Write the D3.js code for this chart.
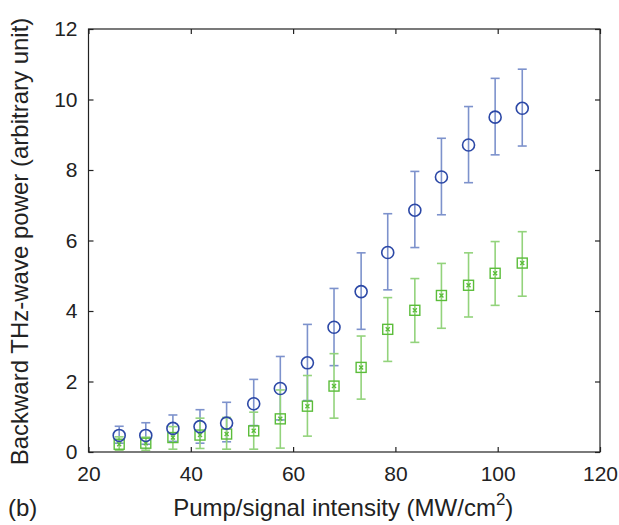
<!DOCTYPE html>
<html>
<head>
<meta charset="utf-8">
<script src="https://cdn.jsdelivr.net/npm/d3@7"></script>
<style>
html,body{margin:0;padding:0;background:#fff;}
svg{display:block;font-family:"Liberation Sans",Arial,Helvetica,sans-serif;}
</style>
</head>
<body>
<svg id="chart" width="619" height="525"></svg>
<script>
// Pump/signal intensity (MW/cm^2)
const intensity = [26, 31.2, 36.5, 41.8, 47, 52.3, 57.5, 62.8, 68, 73.3, 78.5, 83.8, 89, 94.3, 99.5, 104.8];
// Blue circles
const blueValue = [0.47, 0.47, 0.67, 0.72, 0.82, 1.37, 1.8, 2.53, 3.54, 4.55, 5.66, 6.86, 7.8, 8.71, 9.5, 9.75];
const blueUpper = [0.73, 0.83, 1.05, 1.2, 1.41, 2.06, 2.71, 3.62, 4.64, 5.65, 6.76, 7.96, 8.9, 9.8, 10.6, 10.86];
const blueLower = [0.25, 0.22, 0.3, 0.25, 0.29, 0.75, 0.91, 1.46, 2.45, 3.48, 4.6, 5.8, 6.73, 7.64, 8.43, 8.68];
// Green squares
const greenValue = [0.22, 0.25, 0.41, 0.48, 0.51, 0.6, 0.94, 1.3, 1.87, 2.4, 3.48, 4.02, 4.44, 4.73, 5.07, 5.36];
const greenUpper = [0.43, 0.42, 0.72, 0.96, 0.98, 1.13, 1.76, 2.17, 2.79, 3.29, 4.38, 4.92, 5.35, 5.65, 5.97, 6.25];
const greenLower = [0.05, 0.05, 0.08, 0.1, 0.08, 0.08, 0.11, 0.45, 0.96, 1.5, 2.57, 3.11, 3.51, 3.83, 4.16, 4.42];
const xTicks = [20, 40, 60, 80, 100, 120];
const yTicks = [0, 2, 4, 6, 8, 10, 12];

const blueDark = "#2c48a6", blueLight = "#7d92cc";
const greenDark = "#5bbd3a", greenLight = "#93d37c";

const svg = d3.select("#chart");
const L = 88.5, R = 600, T = 29, B = 452;
const x = d3.scaleLinear().domain([20, 120]).range([L, R]);
const y = d3.scaleLinear().domain([0, 12]).range([B, T]);

// frame
svg.append("rect").attr("x", L).attr("y", T).attr("width", R - L).attr("height", B - T)
  .attr("fill", "none").attr("stroke", "#222").attr("stroke-width", 1.2);

// axes with inward ticks
const axB = d3.axisBottom(x).tickValues(xTicks).tickSize(-5).tickPadding(14);
const axT = d3.axisTop(x).tickValues(xTicks).tickSize(-5).tickFormat("");
const axLft = d3.axisLeft(y).tickValues(yTicks).tickSize(-5).tickPadding(11);
const axRt = d3.axisRight(y).tickValues(yTicks).tickSize(-5).tickFormat("");
function style(g) {
  g.select(".domain").remove();
  g.selectAll(".tick line").attr("stroke", "#222").attr("stroke-width", 1.2);
  g.selectAll(".tick text").attr("fill", "#222").style("font-size", "21px")
    .style("font-family", '"Liberation Sans",Arial,sans-serif');
}
svg.append("g").attr("transform", `translate(0,${B})`).call(axB).call(style);
svg.append("g").attr("transform", `translate(0,${T})`).call(axT).call(style);
svg.append("g").attr("transform", `translate(${L},0)`).call(axLft).call(style);
svg.append("g").attr("transform", `translate(${R},0)`).call(axRt).call(style);

// error bars
function errorBars(vals, up, lo, color) {
  const g = svg.append("g").attr("stroke", color).attr("stroke-width", 1.6).attr("fill", "none");
  intensity.forEach((xi, i) => {
    const cx = x(xi);
    g.append("line").attr("x1", cx).attr("x2", cx).attr("y1", y(up[i])).attr("y2", y(lo[i]));
    g.append("line").attr("x1", cx - 4.5).attr("x2", cx + 4.5).attr("y1", y(up[i])).attr("y2", y(up[i]));
    g.append("line").attr("x1", cx - 4.5).attr("x2", cx + 4.5).attr("y1", y(lo[i])).attr("y2", y(lo[i]));
  });
}
errorBars(blueValue, blueUpper, blueLower, blueLight);
errorBars(greenValue, greenUpper, greenLower, greenLight);

// green squares with x
const gs = svg.append("g").attr("fill", "none").attr("stroke", greenDark).attr("stroke-width", 1.4);
intensity.forEach((xi, i) => {
  const cx = x(xi), cy = y(greenValue[i]);
  gs.append("rect").attr("x", cx - 5).attr("y", cy - 5).attr("width", 10).attr("height", 10);
  gs.append("path").attr("d", `M${cx-2},${cy-2}L${cx+2},${cy+2}M${cx-2},${cy+2}L${cx+2},${cy-2}`);
});

// blue circles
svg.append("g").selectAll("circle").data(intensity).join("circle")
  .attr("cx", d => x(d)).attr("cy", (d, i) => y(blueValue[i])).attr("r", 6)
  .attr("fill", "none").attr("stroke", blueDark).attr("stroke-width", 1.6);

// axis titles
const xt = svg.append("text").attr("x", (L + R) / 2 - 1).attr("y", 516).attr("text-anchor", "middle")
  .attr("fill", "#222").style("font-size", "24px");
xt.append("tspan").text("Pump/signal intensity (MW/cm");
xt.append("tspan").text("2").attr("dy", -11).style("font-size", "17px");
xt.append("tspan").text(")").attr("dy", 11);

svg.append("text").attr("x", 8).attr("y", 516).attr("fill", "#222").style("font-size", "24px").text("(b)");

svg.append("text").attr("transform", `translate(28,${(T + B) / 2 + 1}) rotate(-90)`)
  .attr("text-anchor", "middle").attr("fill", "#222").style("font-size", "24px")
  .text("Backward THz-wave power (arbitrary unit)");
</script>
</body>
</html>
